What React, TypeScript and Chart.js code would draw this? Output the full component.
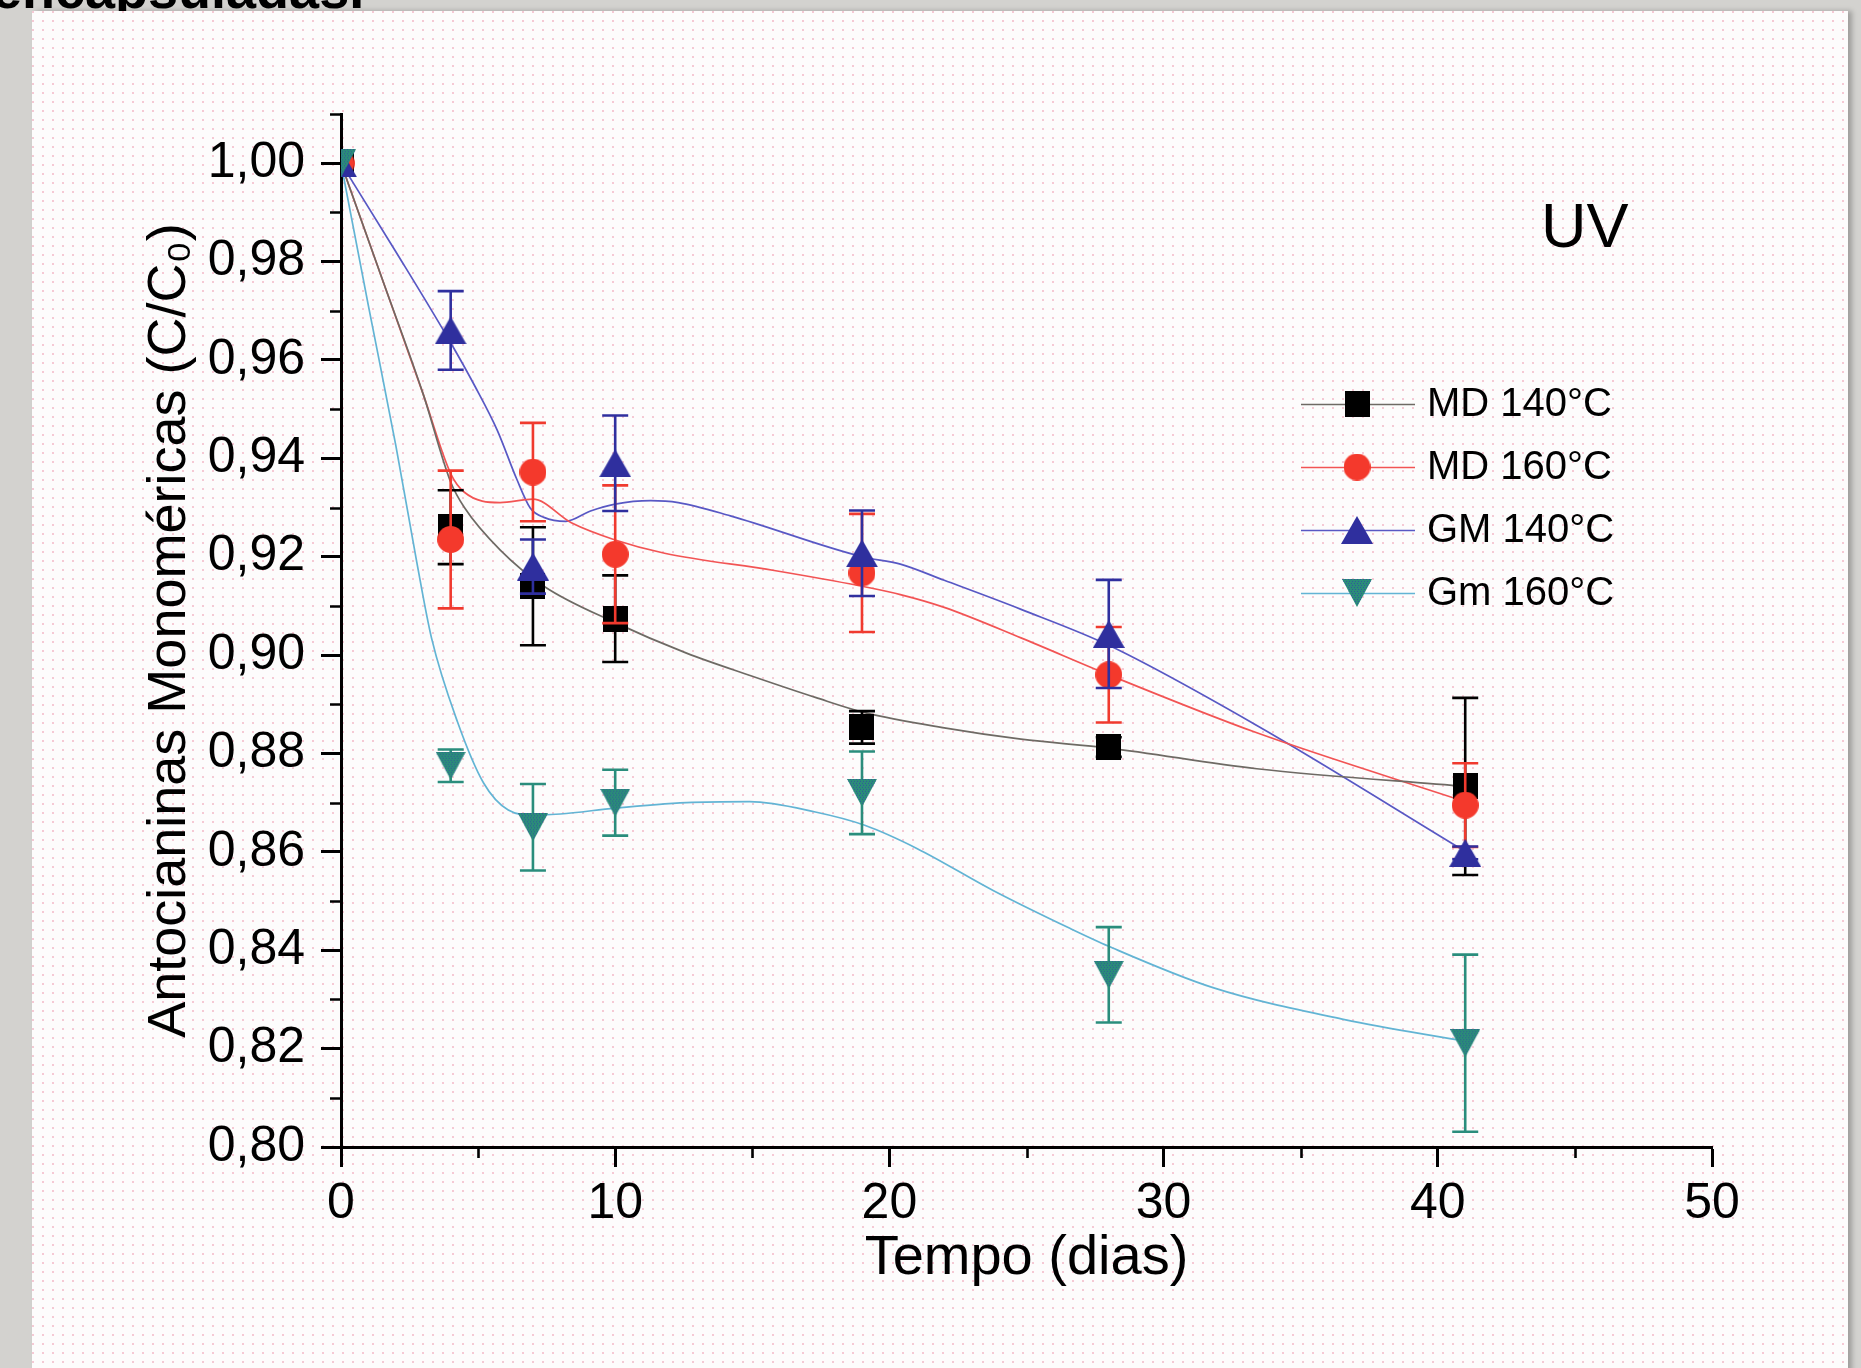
import React, { useEffect, useRef } from 'react';
import { Chart, registerables } from 'chart.js';

Chart.register(...registerables);

// ---------- data ----------
const DAYS = [0, 4, 7, 10, 19, 28, 41];

const MD140 = [1.0, 0.926, 0.914, 0.9074, 0.8853, 0.8813, 0.8733];
const MD140_ERR = [0, 0.0075, 0.012, 0.0088, 0.0033, 0.002, 0.018];
const MD160 = [1.0, 0.9235, 0.9372, 0.9205, 0.9167, 0.896, 0.8695];
const MD160_ERR = [0, 0.014, 0.01, 0.014, 0.012, 0.0097, 0.0085];
const GM140 = [1.0, 0.966, 0.918, 0.939, 0.9207, 0.9043, 0.8598];
const GM140_ERR = [0, 0.008, 0.0055, 0.0097, 0.0087, 0.011, 0.0013];
const GM160 = [1.0, 0.8775, 0.865, 0.87, 0.872, 0.835, 0.8211];
const GM160_ERR = [0, 0.0033, 0.0088, 0.0067, 0.0084, 0.0097, 0.018];

// smoothed (B-spline) curves as drawn in the reference
const MD140_FIT_X = [0, 1.5, 3, 4, 4.5, 5.8, 7.4, 10, 12.6, 15, 17.3, 19.1, 22, 24.8, 28, 33.4, 41];
const MD140_FIT_Y = [1.0, 0.9765, 0.953, 0.9352, 0.93, 0.9214, 0.914, 0.9066, 0.9004, 0.8957, 0.8914, 0.8883, 0.8852, 0.8829, 0.8811, 0.8769, 0.8733];
const MD160_FIT_X = [0, 1.5, 3, 4, 4.5, 5.8, 7, 8.4, 10, 11.8, 15.8, 18.9, 20.4, 22, 24.8, 28, 33.4, 41];
const MD160_FIT_Y = [1.0, 0.9765, 0.953, 0.9369, 0.9331, 0.931, 0.9317, 0.9269, 0.9234, 0.9207, 0.9172, 0.9141, 0.9123, 0.9097, 0.9035, 0.896, 0.8842, 0.8702];
const GM140_FIT_X = [0, 2, 4, 4.9, 5.7, 6.4, 6.9, 7.4, 8.2, 9.1, 10, 11.3, 12.3, 14.2, 19, 20.4, 22, 24.8, 28, 33.4, 41];
const GM140_FIT_Y = [1.0, 0.982, 0.9635, 0.9545, 0.9457, 0.9359, 0.9299, 0.928, 0.9272, 0.9293, 0.9307, 0.9314, 0.931, 0.9283, 0.92, 0.9185, 0.9152, 0.9093, 0.902, 0.8857, 0.8601];
const GM160_FIT_X = [0, 1, 2, 2.76, 3.3, 4.25, 5.2, 6.1, 7, 8, 10, 12.6, 14.9, 17.3, 19.1, 21, 23.8, 26.6, 28, 31.8, 36.6, 41];
const GM160_FIT_Y = [1.0, 0.971, 0.9426, 0.919, 0.9035, 0.8864, 0.874, 0.8685, 0.8675, 0.8677, 0.8689, 0.87, 0.8702, 0.8681, 0.8654, 0.8607, 0.8521, 0.8444, 0.8408, 0.8324, 0.8259, 0.8215];

const SERIES_LABELS = ['MD 140°C', 'MD 160°C', 'GM 140°C', 'Gm 160°C'];

const X_TICKS = [0, 10, 20, 30, 40, 50];
const X_TICK_LABELS = ['0', '10', '20', '30', '40', '50'];
const X_MINOR_TICKS = [5, 15, 25, 35, 45];
const Y_TICKS = [0.8, 0.82, 0.84, 0.86, 0.88, 0.9, 0.92, 0.94, 0.96, 0.98, 1.0];
const Y_TICK_LABELS = ['0,80', '0,82', '0,84', '0,86', '0,88', '0,90', '0,92', '0,94', '0,96', '0,98', '1,00'];
const Y_MINOR_TICKS = [0.81, 0.83, 0.85, 0.87, 0.89, 0.91, 0.93, 0.95, 0.97, 0.99, 1.01];

const X_TITLE = 'Tempo (dias)';
const Y_TITLE = 'Antocianinas Monoméricas (C/C₀)';
const PANEL_LABEL = 'UV';
const HEADER_TEXT = 'encapsuladas.';

// ---------- styles ----------
const FONT = '"Liberation Sans", Arial, Helvetica, sans-serif';
const LINE_COLORS = ['#6e6a64', '#f25454', '#5858c4', '#62b4d4'];
const ERR_COLORS = ['#000000', '#f03a2e', '#2f2f9e', '#2a8d7c'];

function makeMarker(kind: string, color: string, w: number, h: number) {
  const c = document.createElement('canvas');
  c.width = w;
  c.height = h;
  const ctx = c.getContext('2d') as CanvasRenderingContext2D;
  ctx.fillStyle = color;
  ctx.beginPath();
  if (kind === 'square') {
    ctx.rect(0, 0, w, h);
  } else if (kind === 'circle') {
    ctx.ellipse(w / 2, h / 2, w / 2, h / 2, 0, 0, Math.PI * 2);
  } else if (kind === 'tri') {
    ctx.moveTo(w / 2, 0);
    ctx.lineTo(w, h);
    ctx.lineTo(0, h);
    ctx.closePath();
  } else {
    ctx.moveTo(0, 0);
    ctx.lineTo(w, 0);
    ctx.lineTo(w / 2, h);
    ctx.closePath();
  }
  ctx.fill();
  if (kind === 'itri') {
    ctx.save();
    ctx.clip();
    ctx.fillStyle = 'rgba(52,70,170,0.75)';
    for (let y = 0; y < h; y += 2) {
      for (let x = (y / 2) % 2 === 0 ? 0 : 1; x < w; x += 3) {
        ctx.fillRect(x, y, 1, 1);
      }
    }
    ctx.restore();
  }
  return c;
}

function pts(xs: number[], ys: number[]) {
  return xs.map((x, i) => ({ x, y: ys[i] }));
}

export default function App() {
  const ref = useRef<HTMLCanvasElement | null>(null);

  useEffect(() => {
    if (!ref.current) return;
    const markers = [
      makeMarker('square', '#000000', 25, 26),
      makeMarker('circle', '#f4392c', 27, 27),
      makeMarker('tri', '#2f2f9e', 32, 28),
      makeMarker('itri', '#2a8d78', 30, 28),
    ];
    const values = [MD140, MD160, GM140, GM160];
    const errs = [MD140_ERR, MD160_ERR, GM140_ERR, GM160_ERR];
    const fits = [
      pts(MD140_FIT_X, MD140_FIT_Y),
      pts(MD160_FIT_X, MD160_FIT_Y),
      pts(GM140_FIT_X, GM140_FIT_Y),
      pts(GM160_FIT_X, GM160_FIT_Y),
    ];

    const fitSets = fits.map((d, i) => ({
      type: 'line',
      label: SERIES_LABELS[i] + ' fit',
      data: d,
      borderColor: LINE_COLORS[i],
      borderWidth: 1.7,
      pointRadius: 0,
      fill: false,
      cubicInterpolationMode: 'monotone',
      order: 10 + i,
    }));
    const markerSets = values.map((v, i) => ({
      type: 'scatter',
      label: SERIES_LABELS[i],
      data: pts(DAYS, v),
      pointStyle: markers[i],
      pointRadius: 14,
      showLine: false,
      errors: errs[i],
      errorColor: ERR_COLORS[i],
      lineColor: LINE_COLORS[i],
      clip: 0,
      order: 4 - i,
    }));

    const errorBarPlugin = {
      id: 'errorBars',
      beforeDatasetDraw(chart: any, args: any) {
        const ds = chart.data.datasets[args.index];
        if (!ds.errors) return;
        const ctx = chart.ctx;
        const xs = chart.scales.x;
        const ys = chart.scales.y;
        ctx.save();
        ctx.strokeStyle = ds.errorColor;
        ctx.lineWidth = 2.6;
        ds.data.forEach((p: any, i: number) => {
          const e = ds.errors[i];
          if (!e) return;
          const x = xs.getPixelForValue(p.x);
          const y1 = ys.getPixelForValue(p.y + e);
          const y2 = ys.getPixelForValue(p.y - e);
          ctx.beginPath();
          ctx.moveTo(x, y1);
          ctx.lineTo(x, y2);
          ctx.moveTo(x - 13, y1);
          ctx.lineTo(x + 13, y1);
          ctx.moveTo(x - 13, y2);
          ctx.lineTo(x + 13, y2);
          ctx.stroke();
        });
        ctx.restore();
      },
    };

    const decorPlugin = {
      id: 'decor',
      afterDraw(chart: any) {
        const ctx = chart.ctx;
        const xs = chart.scales.x;
        const ys = chart.scales.y;
        const area = chart.chartArea;
        ctx.save();
        // minor ticks
        ctx.strokeStyle = '#000';
        ctx.lineWidth = 2.6;
        ctx.beginPath();
        Y_MINOR_TICKS.forEach((v) => {
          const y = Math.round(ys.getPixelForValue(v)) + 0.5;
          ctx.moveTo(area.left - 11, y);
          ctx.lineTo(area.left, y);
        });
        X_MINOR_TICKS.forEach((v) => {
          const x = Math.round(xs.getPixelForValue(v)) + 0.5;
          ctx.moveTo(x, area.bottom);
          ctx.lineTo(x, area.bottom + 11);
        });
        ctx.stroke();

        // panel label
        ctx.fillStyle = '#000';
        ctx.font = '63px ' + FONT;
        ctx.textAlign = 'left';
        ctx.textBaseline = 'alphabetic';
        ctx.fillText(PANEL_LABEL, 1541, 247);

        // legend
        const rows = [404, 467, 530, 593];
        const lx0 = 1301;
        const lx1 = 1415;
        const mx = 1357;
        const tx = 1427;
        const sets = chart.data.datasets.filter((d: any) => d.errors);
        ctx.font = '40px ' + FONT;
        ctx.textBaseline = 'middle';
        sets.forEach((d: any, i: number) => {
          const y = rows[i];
          ctx.strokeStyle = d.lineColor;
          ctx.lineWidth = 1.7;
          ctx.beginPath();
          ctx.moveTo(lx0, y + 0.5);
          ctx.lineTo(lx1, y + 0.5);
          ctx.stroke();
          const img = d.pointStyle;
          ctx.drawImage(img, mx - img.width / 2, y - img.height / 2);
          ctx.fillStyle = '#000';
          ctx.fillText(d.label, tx, y + 1);
        });
        ctx.restore();
      },
    };

    const chart = new Chart(ref.current, {
      type: 'scatter',
      data: { datasets: [...markerSets, ...fitSets] as any },
      options: {
        responsive: false,
        animation: false,
        events: [],
        devicePixelRatio: 1,
        layout: { padding: { top: 114, right: 149, bottom: 0, left: 0 } },
        plugins: {
          legend: { display: false },
          tooltip: { enabled: false },
          title: { display: false },
        },
        scales: {
          x: {
            type: 'linear',
            min: 0,
            max: 50,
            afterBuildTicks: (s: any) => {
              s.ticks = X_TICKS.map((v) => ({ value: v }));
            },
            afterFit: (s: any) => {
              s.height = 221;
            },
            ticks: {
              callback: (_v: any, i: number) => X_TICK_LABELS[i],
              font: { family: FONT, size: 50 },
              color: '#000',
              padding: 7,
              maxRotation: 0,
              autoSkip: false,
            },
            grid: {
              drawOnChartArea: false,
              drawTicks: true,
              tickLength: 20,
              tickWidth: 3,
              tickColor: '#000',
            },
            border: { display: true, color: '#000', width: 3 },
            title: {
              display: true,
              text: X_TITLE,
              color: '#000',
              font: { family: FONT, size: 56 },
              padding: { top: 0, bottom: 76 },
            },
          },
          y: {
            type: 'linear',
            min: 0.8,
            max: 1.01,
            afterBuildTicks: (s: any) => {
              s.ticks = Y_TICKS.map((v) => ({ value: v }));
            },
            afterFit: (s: any) => {
              s.width = 341;
            },
            ticks: {
              callback: (_v: any, i: number) => Y_TICK_LABELS[i],
              font: { family: FONT, size: 50 },
              color: '#000',
              padding: 16,
              autoSkip: false,
            },
            grid: {
              drawOnChartArea: false,
              drawTicks: true,
              tickLength: 20,
              tickWidth: 3,
              tickColor: '#000',
            },
            border: { display: true, color: '#000', width: 3 },
            title: {
              display: true,
              text: Y_TITLE,
              color: '#000',
              font: { family: FONT, size: 54 },
              padding: { top: 138, bottom: 0 },
            },
          },
        },
      } as any,
      plugins: [errorBarPlugin, decorPlugin],
    });
    return () => chart.destroy();
  }, []);

  return (
    <div
      style={{
        position: 'absolute',
        left: 0,
        top: 0,
        width: 1861,
        height: 1368,
        overflow: 'hidden',
        background: '#d3d2cf',
      }}
    >
      <div
        style={{
          position: 'absolute',
          left: -8,
          top: -38,
          font: 'bold 54px ' + FONT,
          lineHeight: '54px',
          color: '#000',
          whiteSpace: 'nowrap',
        }}
      >
        {HEADER_TEXT}
      </div>
      <div
        style={{
          position: 'absolute',
          left: 32,
          top: 11,
          width: 1816,
          height: 1400,
          backgroundColor: '#fdfcfc',
          backgroundImage:
            'radial-gradient(circle at 1px 1px, rgba(236,140,165,0.45) 0.8px, transparent 1.3px)',
          backgroundSize: '10px 9px',
          boxShadow: '4px 0 5px rgba(0,0,0,0.25)',
        }}
      />
      <canvas
        ref={ref}
        width={1861}
        height={1368}
        style={{ position: 'absolute', left: 0, top: 0, width: 1861, height: 1368 }}
      />
    </div>
  );
}
